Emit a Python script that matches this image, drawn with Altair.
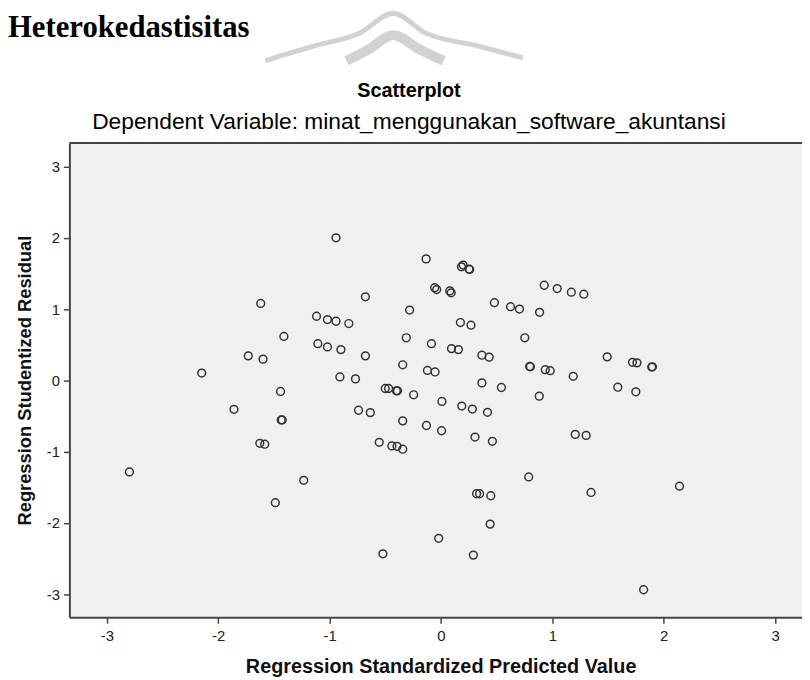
import altair as alt
import pandas as pd

pred = [
    -0.942, -1.618, -1.117, -1.019, -0.942, -0.827, -1.41, -1.105, -1.019, -0.898,
    -1.73, -1.597, -2.148,
    -0.133, 0.199, 0.184, 0.252, 0.258, -0.056, -0.038, 0.08, 0.092, 0.928,
    1.044, 1.171, 1.283, -0.678, 0.48, 0.625, 0.705, 0.886, -0.281, 0.175,
    0.27, 0.753, -0.311, -0.085, -0.678, 0.095, 0.157, 0.368, 0.433, 1.493,
    1.72, -0.343, 0.797, 0.803, 0.937, 0.981, -0.121, -0.053, 1.188, -0.907,
    -0.767,
    1.76, 1.893, 1.899,
    -1.44, -1.858, -1.434, -1.425, -1.626, -1.582, -2.797, -1.232, -1.487,
    0.368, 0.543, 1.588, 1.75, -0.5, -0.47, -0.40, -0.39, -0.245, 0.883,
    0.009, -0.74, -0.634, 0.187, 0.282, 0.418, -0.343, -0.13, 0.006, 0.306,
    0.462, 1.206, 1.304, -0.554, -0.441, -0.394, -0.343, 0.788, 0.32, 0.347,
    0.448, 1.348, 0.442, -0.02, -0.521, 0.291,
    2.142, 1.82,
]
resid = [
    2.0, 1.079, 0.899, 0.853, 0.829, 0.797, 0.616, 0.514, 0.468, 0.431,
    0.343, 0.297, 0.102,
    1.704, 1.617, 1.593, 1.561, 1.556, 1.30, 1.274, 1.255, 1.228, 1.334,
    1.288, 1.237, 1.208, 1.172, 1.089, 1.033, 1.0, 0.954, 0.986, 0.811,
    0.774, 0.597, 0.597, 0.514, 0.343, 0.445, 0.431, 0.352, 0.325, 0.329,
    0.253, 0.218, 0.194, 0.19, 0.149, 0.135, 0.139, 0.117, 0.056, 0.047,
    0.02,
    0.245, 0.186, 0.19,
    -0.157, -0.407, -0.556, -0.556, -0.884, -0.897, -1.286, -1.403, -1.717,
    -0.036, -0.101, -0.097, -0.161, -0.115, -0.115, -0.147, -0.147, -0.203, -0.222,
    -0.296, -0.42, -0.453, -0.361, -0.403, -0.449, -0.569, -0.634, -0.708, -0.796,
    -0.856, -0.759, -0.773, -0.87, -0.921, -0.926, -0.967, -1.356, -1.592, -1.592,
    -1.62, -1.574, -2.018, -2.217, -2.435, -2.453,
    -1.486, -2.939,
]

x_ticks = [-3, -2, -1, 0, 1, 2, 3]
y_ticks = [-3, -2, -1, 0, 1, 2, 3]
x_domain = [-3.336, 3.242]
y_domain = [-3.325, 3.33]

heading = "Heterokedastisitas"
chart_title = "Scatterplot"
chart_subtitle = "Dependent Variable: minat_menggunakan_software_akuntansi"
x_title = "Regression Standardized Predicted Value"
y_title = "Regression Studentized Residual"

# decorative watermark (page pixel coords of the faint roof logo)
wm_outer_x = [268, 283, 317, 363, 397, 430, 483, 528]
wm_outer_y = [58, 53, 43, 30, 10, 30, 43, 55]
wm_inner_x = [350, 373, 397, 423, 448]
wm_inner_y = [58, 46, 32, 46, 58]

W, H = 740, 479
LEFT, TOP = 62, 133          # padding => plot area starts at page (70, 141)
OX, OY = LEFT + 8, TOP + 8

SANS = "Liberation Sans"
SERIF = "Liberation Serif"
LABEL_EXPR = "toString(datum.value)"

df = pd.DataFrame({"pred": pred, "resid": resid})

points = alt.Chart(df).mark_point(
    shape="circle", filled=False, size=62, color="#333333", strokeWidth=1.5, opacity=1
).encode(
    x=alt.X(
        "pred:Q",
        scale=alt.Scale(domain=x_domain, nice=False, zero=False),
        axis=alt.Axis(
            values=x_ticks, grid=False, title=x_title, labelExpr=LABEL_EXPR,
            labelPadding=5, titleX=375, titleY=56, titleBaseline="alphabetic",
            titleAlign="center", titleFontSize=20,
        ),
    ),
    y=alt.Y(
        "resid:Q",
        scale=alt.Scale(domain=y_domain, nice=False, zero=False),
        axis=alt.Axis(
            values=y_ticks, grid=False, title=y_title, labelExpr=LABEL_EXPR,
            labelPadding=4, titleX=-45, titleY=H / 2, titleAngle=270,
            titleBaseline="middle", titleAlign="center", titleFontSize=18.5,
        ),
    ),
)

top_rule = alt.Chart(pd.DataFrame({"a": [0]})).mark_rule(
    color="#444444", strokeWidth=2
).encode(x=alt.value(0), x2=alt.value(W), y=alt.value(0))


def wm_layer(xs, ys, sw):
    d = pd.DataFrame({"px": [v - OX for v in xs], "py": [v - OY for v in ys],
                      "i": list(range(len(xs)))})
    return alt.Chart(d).mark_line(
        color="#d2d2d2", strokeWidth=sw, interpolate="monotone", strokeCap="butt"
    ).encode(
        x=alt.X("px:Q", scale=None, axis=None),
        y=alt.Y("py:Q", scale=None, axis=None),
        order="i:Q",
    )


wm_outer = wm_layer(wm_outer_x, wm_outer_y, 5)
wm_inner = wm_layer(wm_inner_x, wm_inner_y, 10)


def text_layer(txt, x, y, font, size, weight, align="center", baseline="alphabetic"):
    return alt.Chart(pd.DataFrame({"t": [txt]})).mark_text(
        font=font, fontSize=size, fontWeight=weight, align=align,
        baseline=baseline, color="#000000",
    ).encode(x=alt.value(x), y=alt.value(y), text="t:N")


t_heading = text_layer(heading, -LEFT, 2 - TOP, SERIF, 31, "bold",
                       align="left", baseline="top")
t_title = text_layer(chart_title, 413 - OX, 94.5 - OY, SANS, 20, "bold")
t_sub = text_layer(chart_subtitle, 413 - OX, 126.5 - OY, SANS, 23, "normal")

chart = alt.layer(
    wm_outer, wm_inner, top_rule, points, t_heading, t_title, t_sub
).resolve_scale(
    x="independent", y="independent"
).properties(
    width=W, height=H,
    autosize=alt.AutoSizeParams(type="none"),
    padding={"left": LEFT, "top": TOP, "right": 0, "bottom": 60},
    background="#ffffff",
).configure_view(
    strokeWidth=0, fill="#f0f0f0"
).configure_axis(
    labelFont=SANS, labelFontSize=15, labelColor="#222222",
    domainColor="#444444", domainWidth=2, tickColor="#444444", tickWidth=1.5,
    tickSize=6, titleFont=SANS, titleFontWeight="bold",
    titleColor="#111111",
)

chart.save("out.html", embed_options={"renderer": "svg", "actions": False})
